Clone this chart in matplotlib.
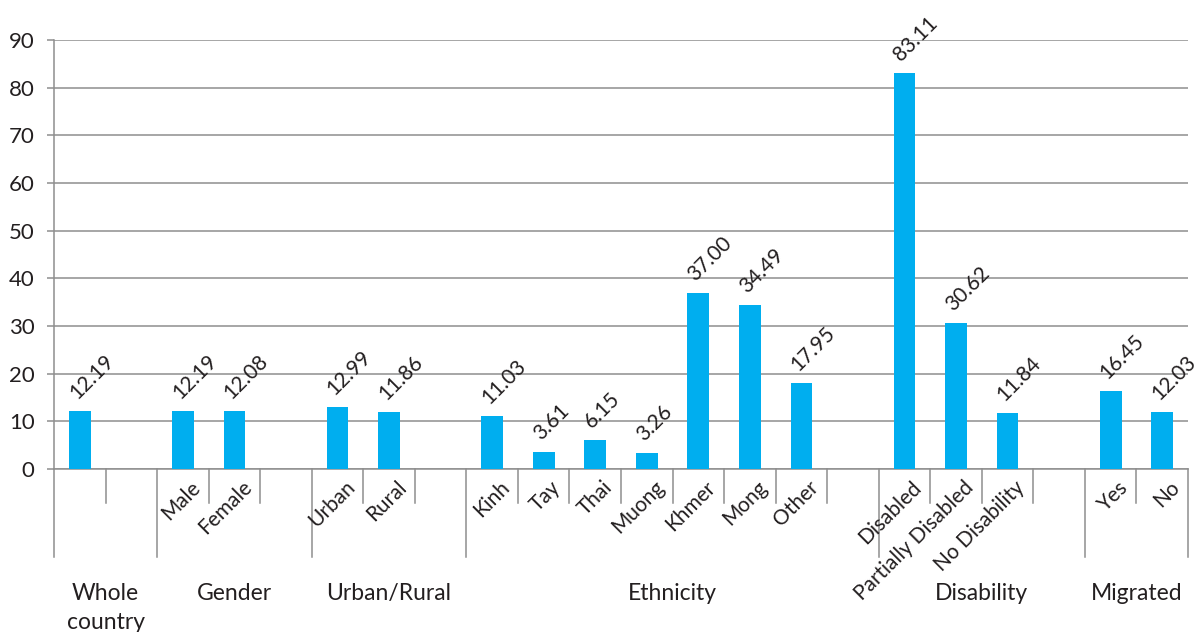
import matplotlib
matplotlib.use("Agg")
import matplotlib.pyplot as plt

plt.rcParams['font.family'] = ['Lato', 'DejaVu Sans']

# ---- data ----
groups = ["Whole\ncountry", "Gender", "Urban/Rural", "Ethnicity", "Disability", "Migrated"]
group_members = [
    ["", ""],
    ["Male", "Female", ""],
    ["Urban", "Rural", ""],
    ["Kinh", "Tay", "Thai", "Muong", "Khmer", "Mong", "Other", ""],
    ["Disabled", "Partially Disabled", "No Disability", ""],
    ["Yes", "No"],
]
group_values = [
    [12.19, None],
    [12.19, 12.08, None],
    [12.99, 11.86, None],
    [11.03, 3.61, 6.15, 3.26, 37.00, 34.49, 17.95, None],
    [83.11, 30.62, 11.84, None],
    [16.45, 12.03],
]
yticks = [0, 10, 20, 30, 40, 50, 60, 70, 80, 90]

bar_color = "#00AEEF"
grid_color = "#8e8e8e"
text_color = "#231f20"

W, H = 1194, 632
fig = plt.figure(figsize=(W / 100, H / 100), dpi=100)
ax_l, ax_r, ax_t, ax_b = 54, 1188, 40, 469
ax = fig.add_axes([ax_l / W, 1 - ax_b / H, (ax_r - ax_l) / W, (ax_b - ax_t) / H])

labels, values = [], []
for mem, vals in zip(group_members, group_values):
    labels += mem
    values += vals
n = len(labels)
xs = list(range(n))

bx = [x for x, v in zip(xs, values) if v is not None]
bv = [v for v in values if v is not None]
ax.bar(bx, bv, width=0.42, color=bar_color, zorder=3)

ax.set_xlim(-0.5, n - 0.5)
ax.set_ylim(0, 90)
ax.set_yticks(yticks)
ax.set_xticks([])
ax.yaxis.grid(True, color=grid_color, lw=1.1, zorder=0)
ax.set_axisbelow(True)
for s in ["top", "right"]:
    ax.spines[s].set_visible(False)
for s in ["left", "bottom"]:
    ax.spines[s].set_color(grid_color)
    ax.spines[s].set_linewidth(1.1)
ax.tick_params(axis='y', length=5, color=grid_color, width=1.1, pad=9,
               labelsize=16, labelcolor=text_color)

axh = ax_b - ax_t
# value labels
for x, v in zip(bx, bv):
    ax.annotate(f"{v:.2f}", xy=(x, v), xytext=(-3, 11), textcoords='offset pixels',
                rotation=45, rotation_mode='anchor', ha='left', va='baseline',
                fontsize=15, color=text_color, annotation_clip=False)

# category labels
for x, lab in zip(xs, labels):
    if lab:
        ax.annotate(lab, xy=(x, 0), xycoords=('data', 'axes fraction'),
                    xytext=(7, -8), textcoords='offset pixels',
                    rotation=45, rotation_mode='anchor', ha='right', va='top',
                    fontsize=15, color=text_color, annotation_clip=False)

# separators and group labels
trans = ax.get_xaxis_transform()
short_y = -(503 - ax_b) / axh
long_y = -(557 - ax_b) / axh
start = 0
group_bounds = [-0.5]
for mem in group_members:
    start += len(mem)
    group_bounds.append(start - 0.5)
for b in range(n + 1):
    xb = b - 0.5
    yb = long_y if xb in group_bounds else short_y
    ax.plot([xb, xb], [0, yb], transform=trans, color=grid_color, lw=1.1, clip_on=False)

start = 0
for g, mem in zip(groups, group_members):
    c = start + (len(mem) - 1) / 2
    start += len(mem)
    ax.text(c, -(583 - ax_b) / axh, g, transform=trans, ha='center', va='top',
            fontsize=16.5, color=text_color, linespacing=1.45)

fig.savefig("out.png", dpi=100)
